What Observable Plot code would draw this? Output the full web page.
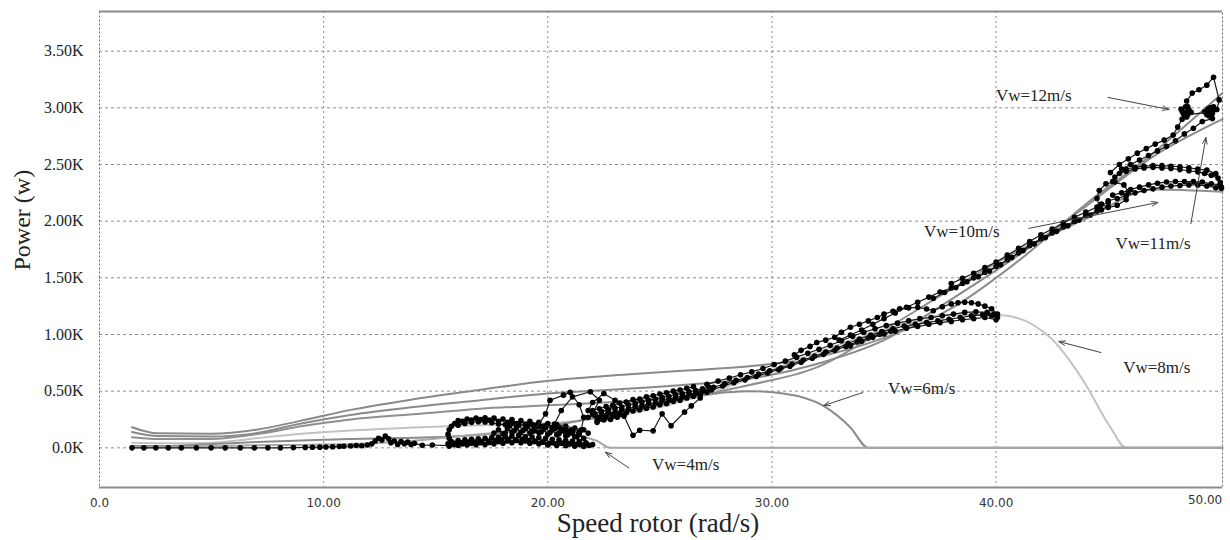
<!DOCTYPE html>
<html><head><meta charset="utf-8">
<script src="https://cdn.jsdelivr.net/npm/d3@7"></script>
<script src="https://cdn.jsdelivr.net/npm/@observablehq/plot@0.6"></script>
<style>
html,body{margin:0;padding:0;background:#fff;}
#chart svg{display:block;}
</style>
</head><body><div id="chart"></div>
<script>
// ---------- axis ticks ----------
const omegaTicks = [0, 10, 20, 30, 40, 50];
const omegaTickLabels = ["0.0", "10.00", "20.00", "30.00", "40.00", "50.00"];
const powerTicks = [0, 500, 1000, 1500, 2000, 2500, 3000, 3500];
const powerTickLabels = ["0.0K", "0.50K", "1.00K", "1.50K", "2.00K", "2.50K", "3.00K", "3.50K"];
const xTitle = "Speed rotor (rad/s)";
const yTitle = "Power (w)";

// ---------- grey power curves P(omega) for each wind speed [rad/s, W] ----------
const curveVw12 = [[1.45,182],[2.6,128],[5,125],[7,160],[9,240],[11.2,335],[14,428],[17,512],[20,592],[23,640],[26,680],[29,720],[32,800],[35,970],[38,1230],[41,1650],[44,2150],[47,2600],[50.1,3130]];
const curveVw11 = [[1.45,140],[2.6,104],[5,100],[7,130],[9,215],[11.2,290],[14,360],[17,420],[20,480],[23,515],[26,555],[29,610],[32,740],[35,950],[38,1310],[41,1700],[44,2130],[47,2570],[50.1,2900]];
const curveVw10 = [[1.45,94],[2.6,78],[5,78],[7,120],[9,190],[11.2,250],[14,296],[17,345],[20,375],[23,405],[26,445],[29,555],[32,710],[35,1040],[38,1400],[41,1740],[44,2020],[47,2280],[50.1,2260]];
const curveVw8 = [[1.45,45],[3,40],[5,45],[7,85],[9,125],[11.2,153],[14,180],[17,200],[20,217],[23,280],[26,410],[29,610],[32,840],[35,1040],[38,1175],[40.2,1170],[42.4,975],[43.9,590],[45.1,180],[45.8,0],[50.1,0]];
const curveVw6 = [[1.45,17],[3,16],[5,33],[7,52],[9,65],[11.2,78],[14,88],[17,115],[20,190],[23,300],[26,430],[28,490],[29,500],[30.5,480],[32.3,370],[33.5,180],[34.3,0],[50.1,0]];
const curveVw4 = [[1.45,6],[3,5],[5,15],[7,22],[9,26],[11.2,33],[14,62],[17,120],[19.3,145],[20.3,140],[21.2,116],[22.2,60],[22.8,0],[50.1,0]];

// ---------- black measured trajectories [rad/s, W] ----------
const trajStart = [[1.45,0],[1.98,0],[2.51,0],[3.07,0],[3.65,0],[4.32,0],[4.98,0],[5.61,0],[6.28,0],[6.91,0],[7.51,0],[8.07,0],[8.65,2],[9.18,4],[9.5,5],[9.83,6],[10.1,8],[10.4,9],[10.7,12],[10.9,14],[11.2,16],[11.45,20],[11.7,18],[11.95,25],[12.15,35],[12.3,60],[12.45,85],[12.6,70],[12.75,105],[12.9,80],[13.0,45],[13.15,60],[13.3,30],[13.45,55],[13.6,35],[13.75,50],[13.9,30],[14.05,40],[14.4,22],[14.85,25],[15.6,20]];
const trajLow = [[15.55,35],[15.7,55],[15.85,40],[16.0,65],[16.15,45],[16.3,70],[16.45,50],[16.6,75],[16.75,50],[16.9,80],[17.05,55],[17.2,85],[17.35,60],[17.5,90],[17.65,65],[17.8,95],[17.95,70],[18.1,100],[18.25,75],[18.4,105],[18.55,70],[18.7,110],[18.85,75],[19.0,100],[19.15,65],[19.3,95],[19.45,60],[19.6,90],[19.75,50],[19.9,85],[20.05,40],[20.2,75],[20.35,35],[20.5,70],[20.65,40],[20.8,65],[20.95,35],[21.1,60],[21.25,30],[21.4,55],[21.55,25],[21.7,45],[21.85,20],[22.0,30]];
const trajLow2 = [[15.6,15],[15.8,30],[16.0,20],[16.2,35],[16.4,25],[16.6,40],[16.8,28],[17.0,45],[17.2,30],[17.4,48],[17.6,35],[17.8,55],[18.0,40],[18.2,60],[18.4,45],[18.6,65],[18.8,45],[19.0,60],[19.2,40],[19.4,55],[19.6,35],[19.8,50],[20.0,25],[20.2,45],[20.4,20],[20.6,40],[20.8,18],[21.0,35],[21.2,15],[21.4,30],[21.6,12],[21.8,25]];
const trajArc = [[21.8,130],[21.6,160],[21.4,140],[21.2,175],[21.0,150],[20.8,190],[20.6,165],[20.4,205],[20.2,180],[20.0,215],[19.8,190],[19.6,225],[19.4,200],[19.2,235],[19.0,210],[18.8,240],[18.6,215],[18.4,250],[18.2,225],[18.0,255],[17.8,235],[17.6,262],[17.4,245],[17.2,265],[17.0,250],[16.8,262],[16.6,245],[16.4,255],[16.2,235],[16.0,240],[15.85,215],[15.7,190],[15.6,160],[15.55,120],[15.6,85]];
const trajArc2 = [[16.0,200],[16.3,215],[16.6,225],[16.9,230],[17.2,228],[17.5,222],[17.8,210],[18.1,205],[18.4,215],[18.7,205],[19.0,195],[19.3,205],[19.6,190],[19.9,195],[20.2,170],[20.5,175],[20.8,150],[21.1,155],[21.4,125]];
const trajMid = [[17.6,130],[17.8,160],[18.0,125],[18.2,170],[18.4,140],[18.6,180],[18.8,135],[19.0,170],[19.2,130],[19.4,175],[19.6,135],[19.8,165],[20.0,120],[20.2,160],[20.4,115],[20.6,150],[20.8,105],[21.0,140],[21.2,100],[21.4,120],[21.6,85]];
const trajMid2 = [[18.1,130],[18.3,195],[18.5,150],[18.7,200],[18.9,155],[19.1,190],[19.3,145],[19.5,185],[19.7,140],[19.9,180],[20.1,135],[20.3,170],[20.5,125],[20.7,160],[20.9,115],[21.1,130],[21.3,95]];
const trajSpikes = [[19.4,150],[19.9,300],[20.1,420],[20.7,465],[21.0,490],[21.4,380],[21.6,270],[21.5,160],[20.3,210],[20.6,330],[21.1,450],[21.9,495],[22.3,420],[22.0,300],[22.2,240],[22.7,330],[23.0,420],[22.5,480],[22.0,400],[21.8,330]];
const trajBandA = [[21.8,270],[22.1,285],[22.4,290],[22.7,310],[23.0,315],[23.3,335],[23.6,345],[23.9,365],[24.2,370],[24.5,390],[24.8,395],[25.1,420],[25.4,425],[25.7,445],[26.0,455],[26.3,475],[26.6,485],[26.9,505]];
const trajBandB = [[22.0,330],[22.3,345],[22.6,365],[22.9,375],[23.2,395],[23.5,405],[23.8,425],[24.1,430],[24.4,450],[24.7,460],[25.0,475],[25.3,485],[25.6,500],[25.9,510],[26.2,525],[26.5,540]];
const trajBandC = [[22.2,225],[22.5,245],[22.8,250],[23.1,270],[23.4,280],[23.8,110],[24.1,155],[24.7,150],[25.1,300],[25.5,195],[26.1,315],[26.4,370],[26.8,440]];
const trajBandD = [[22.1,300],[22.4,320],[22.7,335],[23.0,350],[23.3,360],[23.6,380],[23.9,390],[24.2,405],[24.5,420],[24.8,430],[25.1,445],[25.4,455],[25.7,470],[26.0,480],[26.3,495],[26.6,505],[26.9,520],[27.2,535]];
const trajBandE = [[22.3,260],[22.6,275],[22.9,285],[23.2,300],[23.5,310],[23.8,325],[24.1,335],[24.4,350],[24.7,360],[25.0,380],[25.3,390],[25.6,410],[25.9,420],[26.2,440],[26.5,455],[26.8,470],[27.1,490]];
const trajRise = [[27.3,510],[27.8,545],[28.3,575],[28.8,600],[29.3,630],[29.8,660],[30.3,690],[30.8,720],[31.3,755],[31.8,790],[32.3,825],[32.8,860],[33.3,895],[33.8,935],[34.3,970],[34.8,1000],[35.3,1030]];
const trajVw8Low = [[26.9,505],[27.4,535],[27.9,565],[28.4,595],[28.9,620],[29.4,650],[29.9,680],[30.4,705],[30.9,740],[31.4,775],[31.9,810],[32.4,845],[32.9,880],[33.4,920],[33.9,960],[34.4,995],[34.9,1025],[35.4,1050],[35.9,1075],[36.4,1090],[36.9,1105],[37.4,1120],[37.9,1135],[38.4,1150],[38.9,1165],[39.4,1175],[39.8,1165],[40.06,1150]];
const trajVw8Low2 = [[27.1,560],[27.6,590],[28.1,615],[28.6,645],[29.1,670],[29.6,700],[30.1,735],[30.6,765],[31.1,800],[31.6,835],[32.1,870],[32.6,905],[33.1,945],[33.6,985],[34.1,1020],[34.6,1050],[35.1,1080],[35.6,1100],[36.1,1120],[36.6,1140],[37.1,1150],[37.6,1165],[38.1,1180],[38.6,1195],[39.1,1200],[39.6,1195],[39.9,1180]];
const trajVw8Low3 = [[33.5,900],[34.0,940],[34.5,975],[35.0,1005],[35.5,1030],[36.0,1055],[36.5,1070],[37.0,1090],[37.5,1105],[38.0,1115],[38.5,1130],[39.0,1140],[39.5,1150],[40.0,1130]];
const trajVw8Up = [[31.0,820],[31.3,860],[31.7,895],[32.0,930],[32.4,950],[32.8,976],[33.1,1020],[33.5,1064],[33.9,1090],[34.3,1120],[34.7,1150],[35.0,1180],[35.4,1205],[35.7,1227],[36.1,1235],[36.5,1240],[36.9,1225],[37.2,1210],[37.6,1245],[38.0,1270],[38.3,1280],[38.6,1285],[38.9,1280],[39.2,1270],[39.5,1250],[39.8,1227],[40.06,1180]];
const trajMain = [[33.0,950],[33.5,995],[34.0,1040],[34.5,1090],[35.0,1140],[35.5,1190],[36.0,1240],[36.5,1285],[37.0,1330],[37.5,1375],[38.0,1410],[38.5,1450],[39.0,1500],[39.5,1550],[40.0,1600],[40.5,1660],[41.0,1720],[41.5,1785],[42.0,1845],[42.5,1895],[43.0,1950],[43.5,2000],[44.0,2050],[44.5,2090],[45.0,2130]];
const trajMain2 = [[37.2,1320],[37.7,1370],[38.2,1415],[38.7,1465],[39.2,1510],[39.7,1560],[40.2,1615],[40.7,1680],[41.2,1740],[41.7,1800],[42.2,1855],[42.7,1910],[43.2,1960],[43.7,2010],[44.2,2055],[44.7,2100]];
const trajMain3 = [[38.0,1450],[38.5,1495],[39.0,1540],[39.5,1590],[40.0,1640],[40.5,1700],[41.0,1760],[41.5,1820],[42.0,1880],[42.5,1930],[43.0,1985],[43.5,2035],[44.0,2080],[44.5,2125],[45.0,2165]];
const trajVw11Knot = [[44.6,2130],[44.5,2200],[44.6,2270],[44.9,2330],[45.3,2345],[45.7,2320],[45.9,2260],[45.8,2190],[45.4,2140],[45.0,2120],[44.7,2150]];
const trajVw11Low = [[45.0,2180],[45.4,2200],[45.8,2225],[46.2,2250],[46.6,2270],[47.0,2285],[47.4,2300],[47.8,2310],[48.2,2315],[48.6,2320],[49.0,2320],[49.4,2310],[49.8,2295],[50.05,2290]];
const trajVw11Low2 = [[45.2,2230],[45.6,2250],[46.0,2280],[46.4,2300],[46.8,2320],[47.2,2335],[47.6,2345],[48.0,2350],[48.4,2350],[48.8,2350],[49.2,2345],[49.6,2330],[50.0,2320]];
const trajVw11Up = [[50.05,2300],[50.0,2340],[49.9,2380],[49.6,2405],[49.3,2420],[49.0,2435],[48.6,2445],[48.2,2455],[47.8,2465],[47.4,2470],[47.0,2475],[46.6,2470],[46.2,2460],[45.8,2440],[45.5,2420],[45.3,2390],[45.2,2350]];
const trajVw11Up2 = [[49.8,2420],[49.4,2450],[49.0,2460],[48.6,2470],[48.2,2480],[47.8,2485],[47.4,2490],[47.0,2490],[46.6,2485],[46.2,2475],[45.8,2460]];
const trajVw12 = [[45.1,2430],[45.5,2500],[45.9,2550],[46.3,2600],[46.7,2640],[47.1,2680],[47.5,2715],[47.9,2760],[48.1,2830],[48.3,2900],[48.45,2960],[48.25,2990],[48.55,3010],[48.4,2940],[48.7,2960],[48.5,3060],[48.75,3130],[49.05,3160],[49.4,3200],[49.7,3270],[49.95,3070],[49.85,2985],[49.6,2950],[49.45,2990],[49.7,3010],[49.5,2930],[49.3,2965],[49.65,2905],[49.2,2880],[48.8,2820],[48.4,2770],[48.0,2710],[47.6,2660],[47.2,2620],[46.8,2580],[46.4,2540],[46.0,2500],[45.6,2460]];
const trajVw12Knots = [[48.35,2950],[48.5,2920],[48.6,2980],[48.45,3010],[48.3,2970],[48.55,2940],[49.45,2960],[49.6,2920],[49.7,2980],[49.55,3000],[49.4,2940],[49.65,2950]];

// ---------- annotations (data coordinates) ----------
const annoLabels = ["Vw=12m/s", "Vw=10m/s", "Vw=11m/s", "Vw=8m/s", "Vw=6m/s", "Vw=4m/s"];
const annoTextAt = [[41.68,3109],[38.47,1909],[47.0,1803],[47.17,710],[36.68,524],[26.15,-147]];
const annoArrowFrom = [[44.99,3092],[41.46,1936],[48.69,1979],[44.67,841],[34.05,488],[23.62,-177]];
const annoArrowTo = [[47.71,2986],[47.22,2165],[49.36,2738],[42.80,938],[32.31,373],[22.57,-39]];

// ---------- build ----------
const greyCurves = [
  {data: curveVw12, color: "#8a8a8a"},
  {data: curveVw11, color: "#8a8a8a"},
  {data: curveVw10, color: "#8f8f8f"},
  {data: curveVw8, color: "#c2c2c2"},
  {data: curveVw6, color: "#8a8a8a"},
  {data: curveVw4, color: "#a6a6a6"}
];
const trajectories = [trajStart, trajLow, trajLow2, trajArc, trajArc2, trajMid, trajMid2, trajSpikes,
  trajBandA, trajBandB, trajBandC, trajBandD, trajBandE, trajRise,
  trajVw8Low, trajVw8Low2, trajVw8Low3, trajVw8Up, trajMain, trajMain2, trajMain3,
  trajVw11Knot, trajVw11Low, trajVw11Low2, trajVw11Up, trajVw11Up2, trajVw12, trajVw12Knots];

const serif = "Liberation Serif, Times New Roman, serif";
const sans = "DejaVu Sans, Verdana, sans-serif";
const fx = d => d[0], fy = d => d[1];
const idx = annoLabels.map((_, i) => i);

const marks = [
  Plot.gridY(powerTicks, {stroke: "#8c8c8c", strokeOpacity: 1, strokeDasharray: "3,3"}),
  Plot.gridX(omegaTicks.slice(1, 5), {stroke: "#8c8c8c", strokeOpacity: 1, strokeDasharray: "2,3"}),
  Plot.frame({stroke: "#666", strokeDasharray: "2,2"}),
  Plot.ruleY([-350, 3850], {stroke: "#8a8a8a", strokeWidth: 2}),
  Plot.axisY(powerTicks, {tickSize: 0, tickPadding: 16, tickFormat: d => powerTickLabels[powerTicks.indexOf(d)],
    fontFamily: serif, fontSize: 16, fill: "#222", label: null}),
  Plot.axisX(omegaTicks.slice(0, 5), {tickSize: 0, tickPadding: 11, tickFormat: d => omegaTickLabels[omegaTicks.indexOf(d)],
    fontFamily: sans, fontSize: 12, fill: "#333", label: null}),
  Plot.text(omegaTicks.slice(5), {x: d => d, frameAnchor: "bottom", dy: 16, textAnchor: "end", dx: 2,
    text: d => omegaTickLabels[omegaTicks.indexOf(d)], fontFamily: sans, fontSize: 12, fill: "#333"}),
  Plot.text([xTitle], {frameAnchor: "bottom", dy: 44, dx: -3, fontFamily: serif, fontSize: 27, fill: "#222"}),
  Plot.text([yTitle], {frameAnchor: "left", dx: -77, dy: 21, rotate: -90, fontFamily: serif, fontSize: 24, fill: "#222"})
];
for (const c of greyCurves) {
  marks.push(Plot.line(c.data, {x: fx, y: fy, stroke: c.color, strokeWidth: 2, curve: "monotone-x"}));
}
for (const t of trajectories) {
  marks.push(Plot.line(t, {x: fx, y: fy, stroke: "#1a1a1a", strokeWidth: 1.2}));
  marks.push(Plot.dot(t, {x: fx, y: fy, r: 2.8, fill: "#000"}));
}
marks.push(Plot.arrow(idx, {x1: i => annoArrowFrom[i][0], y1: i => annoArrowFrom[i][1],
  x2: i => annoArrowTo[i][0], y2: i => annoArrowTo[i][1], stroke: "#444", strokeWidth: 1, headLength: 10, headAngle: 40}));
marks.push(Plot.text(idx, {x: i => annoTextAt[i][0], y: i => annoTextAt[i][1], text: i => annoLabels[i],
  fontFamily: serif, fontSize: 17, fill: "#222"}));

const chart = Plot.plot({
  width: 1230, height: 540,
  marginLeft: 99, marginRight: 8, marginTop: 11, marginBottom: 53,
  x: {domain: [0, 50.1]},
  y: {domain: [-350, 3850]},
  style: {background: "#fff"},
  marks
});
document.getElementById("chart").appendChild(chart);
</script>
</body></html>
